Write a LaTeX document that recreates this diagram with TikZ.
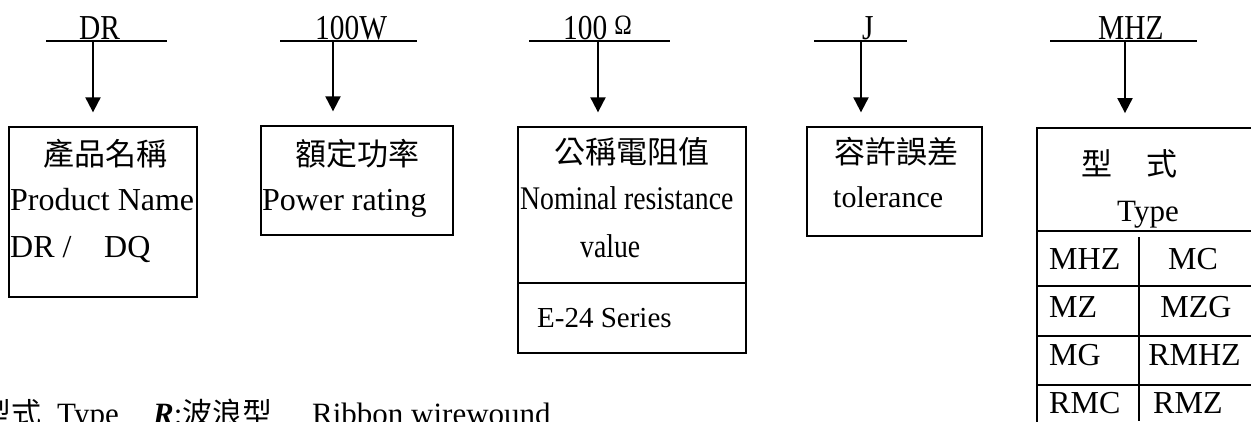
\documentclass[tikz,border=0pt]{standalone}
\usepackage{fontspec}
\setmainfont{Liberation Serif}
\newfontfamily\narrowserif[FakeStretch=0.84]{Liberation Serif}
\newfontfamily\cjk{Noto Sans CJK TC}
\usetikzlibrary{arrows.meta}

\begin{document}
\begin{tikzpicture}[x=1pt, y=-1pt,
    every node/.style={inner sep=0pt, anchor=base west},
    box/.style={draw, line width=1.3pt, anchor=center},
    arr/.style={-{Triangle[length=15pt, width=15pt]}, line width=2pt, shorten >=14pt},
    rule/.style={line width=1.3pt},
    grid/.style={line width=2.2pt},
    code/.style={font=\narrowserif\fontsize{35}{40}\selectfont},
    txt/.style={font=\fontsize{32}{40}\selectfont},
    narrow/.style={font=\narrowserif\fontsize{33}{40}\selectfont},
    small/.style={font=\fontsize{29}{34}\selectfont},
    cell/.style={font=\fontsize{32}{38}\selectfont},
    hz/.style={font=\cjk\fontsize{31}{36}\selectfont, anchor=base}
]
    \useasboundingbox (0,0) rectangle (1251,421);
    \clip (0,0) rectangle (1251,421);

    % code letters over the rules
    \node[code] (dr) at (79,39) {DR};
    \node[code] (watt) at (315,39) {100W};
    \node[code] (ohm) at (563,39) {100\hspace{7pt}\raisebox{5pt}{\fontsize{28}{28}\selectfont Ω}};
    \node[code] (j) at (862,39) {J};
    \node[code] (mhz) at (1098,39) {MHZ};
    \draw[rule] (46,41) -- (167,41);
    \draw[rule] (280,41) -- (417,41);
    \draw[rule] (529,41) -- (670,41);
    \draw[rule] (814,41) -- (907,41);
    \draw[rule] (1050,41) -- (1197,41);
    \coordinate (drtap) at (93,41);
    \coordinate (watttap) at (333,41);
    \coordinate (ohmtap) at (598,41);
    \coordinate (jtap) at (861,41);
    \coordinate (mhztap) at (1125,41);

    % boxes
    \node[box, minimum width=188pt, minimum height=170pt] (prod) at (103,212) {};
    \node[box, minimum width=192pt, minimum height=109pt] (rate) at (357,180.5) {};
    \node[box, minimum width=228pt, minimum height=156pt] (nom) at (632,205) {};
    \node[box, minimum width=228pt, minimum height=70pt] (ser) at (632,318) {};
    \node[box, minimum width=175pt, minimum height=109pt] (tol) at (894.5,181.5) {};
    \node[box, line width=1.8pt, minimum width=240pt, minimum height=320pt] (type) at (1157,288) {};

    \draw[arr] (drtap) -- (drtap |- prod.north);
    \draw[arr] (watttap) -- (watttap |- rate.north);
    \draw[arr] (ohmtap) -- (ohmtap |- nom.north);
    \draw[arr] (jtap) -- (jtap |- tol.north);
    \draw[arr] (mhztap) -- (mhztap |- type.north);

    % box texts
    \node[hz] (prodzh) at (105,165) {產品名稱};
    \node[txt] (proden) at (10,210) {Product Name};
    \node[txt] (proddr) at (10,257) {DR /};
    \node[txt] (proddq) at (104,257) {DQ};
    \node[hz] (ratezh) at (357,165) {額定功率};
    \node[txt] (rateen) at (262,210) {Power rating};
    \node[hz] (nomzh) at (632,163) {公稱電阻值};
    \node[narrow] (nomen) at (520,209) {Nominal resistance};
    \node[narrow] (nomval) at (580,257) {value};
    \node[small] (series) at (537,327) {E-24 Series};
    \node[hz] (tolzh) at (896,163) {容許誤差};
    \node[font=\fontsize{30}{36}\selectfont] (tolen) at (833,207) {tolerance};

    % type table
    \node[hz] (typezh1) at (1097,175) {型};
    \node[hz] (typezh2) at (1162,175) {式};
    \node[font=\fontsize{31}{36}\selectfont] (typeen) at (1117,221) {Type};
    \draw[grid] (1037,231) -- (1251,231);
    \draw[grid] (1037,286) -- (1251,286);
    \draw[grid] (1037,336) -- (1251,336);
    \draw[grid] (1037,385) -- (1251,385);
    \draw[grid] (1139,237) -- (1139,421);
    \node[cell] (t1a) at (1049,269) {MHZ};
    \node[cell, anchor=base] (t1b) at (1193,269) {MC};
    \node[cell] (t2a) at (1049,317) {MZ};
    \node[cell, anchor=base] (t2b) at (1196,317) {MZG};
    \node[cell] (t3a) at (1049,365) {MG};
    \node[cell, anchor=base] (t3b) at (1194.5,365) {RMHZ};
    \node[cell] (t4a) at (1049,413) {RMC};
    \node[cell] (t4b) at (1153,413) {RMZ};

    % note line at the foot
    \node[font=\cjk\fontsize{30}{36}\selectfont] (notezh) at (-19,424) {型式};
    \node[font=\fontsize{31}{36}\selectfont] (notetype) at (57,424) {Type};
    \node[font=\fontsize{31}{36}\selectfont] (noter) at (153,424) {\textbf{\textit{R}}:};
    \node[font=\cjk\fontsize{30}{36}\selectfont] (notewave) at (182,424) {波浪型};
    \node[font=\fontsize{31}{36}\selectfont] (noteen) at (312,424) {Ribbon wirewound};
\end{tikzpicture}
\end{document}
